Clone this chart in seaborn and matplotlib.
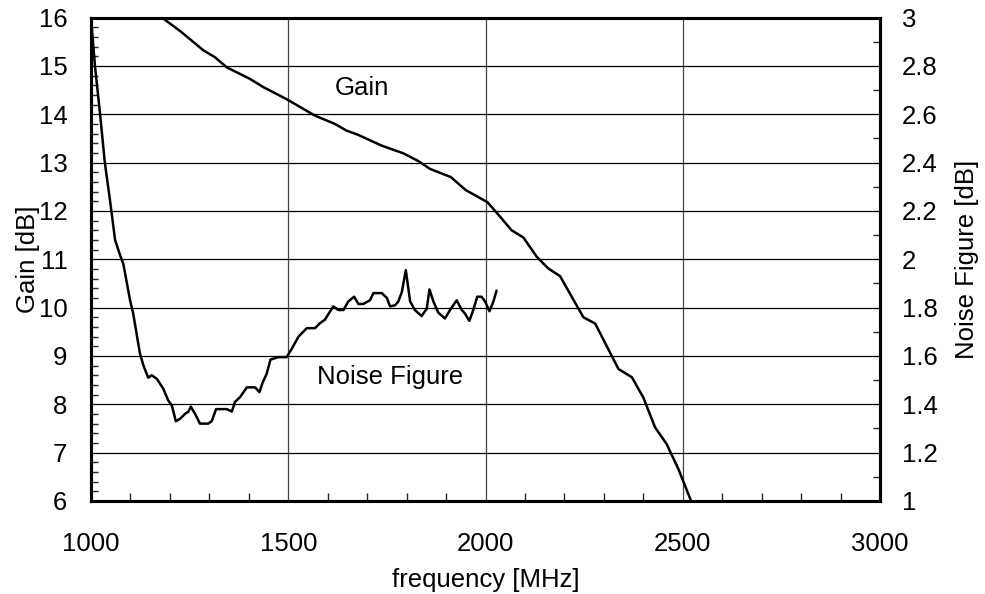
import numpy as np
import pandas as pd
import matplotlib
matplotlib.use("Agg")
import matplotlib.pyplot as plt
from matplotlib.ticker import MultipleLocator
import seaborn as sns

# ---- data ----
gain_freq = [1166, 1226, 1285, 1314, 1344, 1403, 1437, 1496, 1568, 1618, 1648, 1678,
             1737, 1792, 1830, 1859, 1912, 1950, 2005, 2037, 2066, 2096, 2130, 2159,
             2189, 2248, 2278, 2337, 2371, 2400, 2430, 2459, 2489, 2527]
gain_db = [16.08, 15.72, 15.32, 15.18, 14.97, 14.73, 14.56, 14.31, 13.97, 13.80, 13.66,
           13.57, 13.35, 13.19, 13.03, 12.87, 12.70, 12.43, 12.18, 11.88, 11.60, 11.45,
           11.05, 10.81, 10.65, 9.80, 9.67, 8.73, 8.56, 8.14, 7.52, 7.18, 6.66, 5.88]

nf_freq = [1000, 1010, 1023, 1035, 1048, 1061, 1073, 1082, 1099, 1107, 1124, 1133, 1145,
           1154, 1167, 1183, 1196, 1205, 1215, 1226, 1238, 1247, 1253, 1264, 1276, 1297,
           1306, 1317, 1344, 1357, 1365, 1378, 1395, 1416, 1427, 1435, 1445, 1455, 1475,
           1496, 1509, 1526, 1547, 1568, 1580, 1593, 1614, 1627, 1640, 1652, 1667, 1678,
           1690, 1707, 1716, 1737, 1750, 1758, 1771, 1779, 1788, 1798, 1809, 1821, 1838,
           1851, 1858, 1868, 1880, 1897, 1912, 1927, 1940, 1948, 1959, 1969, 1979, 1990,
           1999, 2010, 2020, 2028]
nf_db = [3.00, 2.80, 2.60, 2.40, 2.245, 2.08, 2.02, 1.98, 1.83, 1.775, 1.61, 1.56, 1.51,
         1.52, 1.505, 1.465, 1.415, 1.395, 1.33, 1.34, 1.36, 1.37, 1.39, 1.36, 1.32, 1.32,
         1.33, 1.38, 1.38, 1.37, 1.41, 1.43, 1.47, 1.47, 1.45, 1.49, 1.525, 1.585, 1.595,
         1.595, 1.63, 1.68, 1.715, 1.715, 1.735, 1.75, 1.805, 1.79, 1.79, 1.825, 1.845,
         1.815, 1.815, 1.83, 1.86, 1.86, 1.84, 1.805, 1.81, 1.825, 1.865, 1.955, 1.825,
         1.79, 1.765, 1.795, 1.875, 1.825, 1.78, 1.755, 1.795, 1.83, 1.79, 1.775, 1.745,
         1.79, 1.845, 1.845, 1.825, 1.785, 1.825, 1.87]

x_ticks = [1000, 1500, 2000, 2500, 3000]
gain_ticks = [6, 7, 8, 9, 10, 11, 12, 13, 14, 15, 16]
nf_ticks = [1, 1.2, 1.4, 1.6, 1.8, 2, 2.2, 2.4, 2.6, 2.8, 3]

gain_df = pd.DataFrame({"freq": gain_freq, "gain": gain_db})
nf_df = pd.DataFrame({"freq": nf_freq, "nf": nf_db})

sns.set_theme(style="white")
plt.rcParams["font.family"] = ["Liberation Sans", "DejaVu Sans"]
FS = 18.5

fig = plt.figure(figsize=(9.85, 5.94), dpi=100)
ax = fig.add_axes([0.0924, 0.1566, 0.8010, 0.8139])
ax2 = ax.twinx()

sns.lineplot(data=gain_df, x="freq", y="gain", ax=ax, color="black", lw=1.8,
             estimator=None, sort=False)
sns.lineplot(data=nf_df, x="freq", y="nf", ax=ax2, color="black", lw=1.8,
             estimator=None, sort=False)

ax.set_xlim(1000, 3000)
ax.set_ylim(6, 16)
ax2.set_ylim(1, 3)

ax.set_xticks(x_ticks)
ax.set_xticklabels([str(t) for t in x_ticks], fontsize=FS)
ax.set_yticks(gain_ticks)
ax.set_yticklabels([str(t) for t in gain_ticks], fontsize=FS)
ax2.set_yticks(nf_ticks)
ax2.set_yticklabels([("%g" % t) for t in nf_ticks], fontsize=FS)

ax.xaxis.set_minor_locator(MultipleLocator(100))
ax.yaxis.set_minor_locator(MultipleLocator(0.2))
ax2.yaxis.set_minor_locator(MultipleLocator(0.1))

ax.tick_params(axis="x", which="major", length=0, pad=22, colors="black")
ax.tick_params(axis="y", which="major", length=0, pad=17, colors="black")
ax.tick_params(axis="x", which="minor", direction="in", length=6, width=1, bottom=True)
ax.tick_params(axis="y", which="minor", direction="in", length=5, width=1, left=True)
ax2.tick_params(axis="y", which="major", length=0, pad=16, colors="black")
ax2.tick_params(axis="y", which="minor", direction="in", length=5, width=1, right=True)

ax.grid(True, which="major", axis="y", color="black", lw=0.9)
ax.grid(True, which="major", axis="x", color="#444444", lw=0.9)
ax2.grid(False)

for a in (ax, ax2):
    for s in a.spines.values():
        s.set_color("black")
        s.set_linewidth(2.2)

ax.set_xlabel("frequency [MHz]", fontsize=FS, color="black", labelpad=9)
ax.set_ylabel("Gain [dB]", fontsize=FS, color="black", labelpad=-1)
ax2.set_ylabel("Noise Figure [dB]", fontsize=FS, color="black", labelpad=12)

ax.text(1687, 14.55, "Gain", fontsize=FS, ha="center", va="center", color="black")
ax.text(1758, 8.56, "Noise Figure", fontsize=FS, ha="center", va="center", color="black")

fig.savefig("out.png", dpi=100)
